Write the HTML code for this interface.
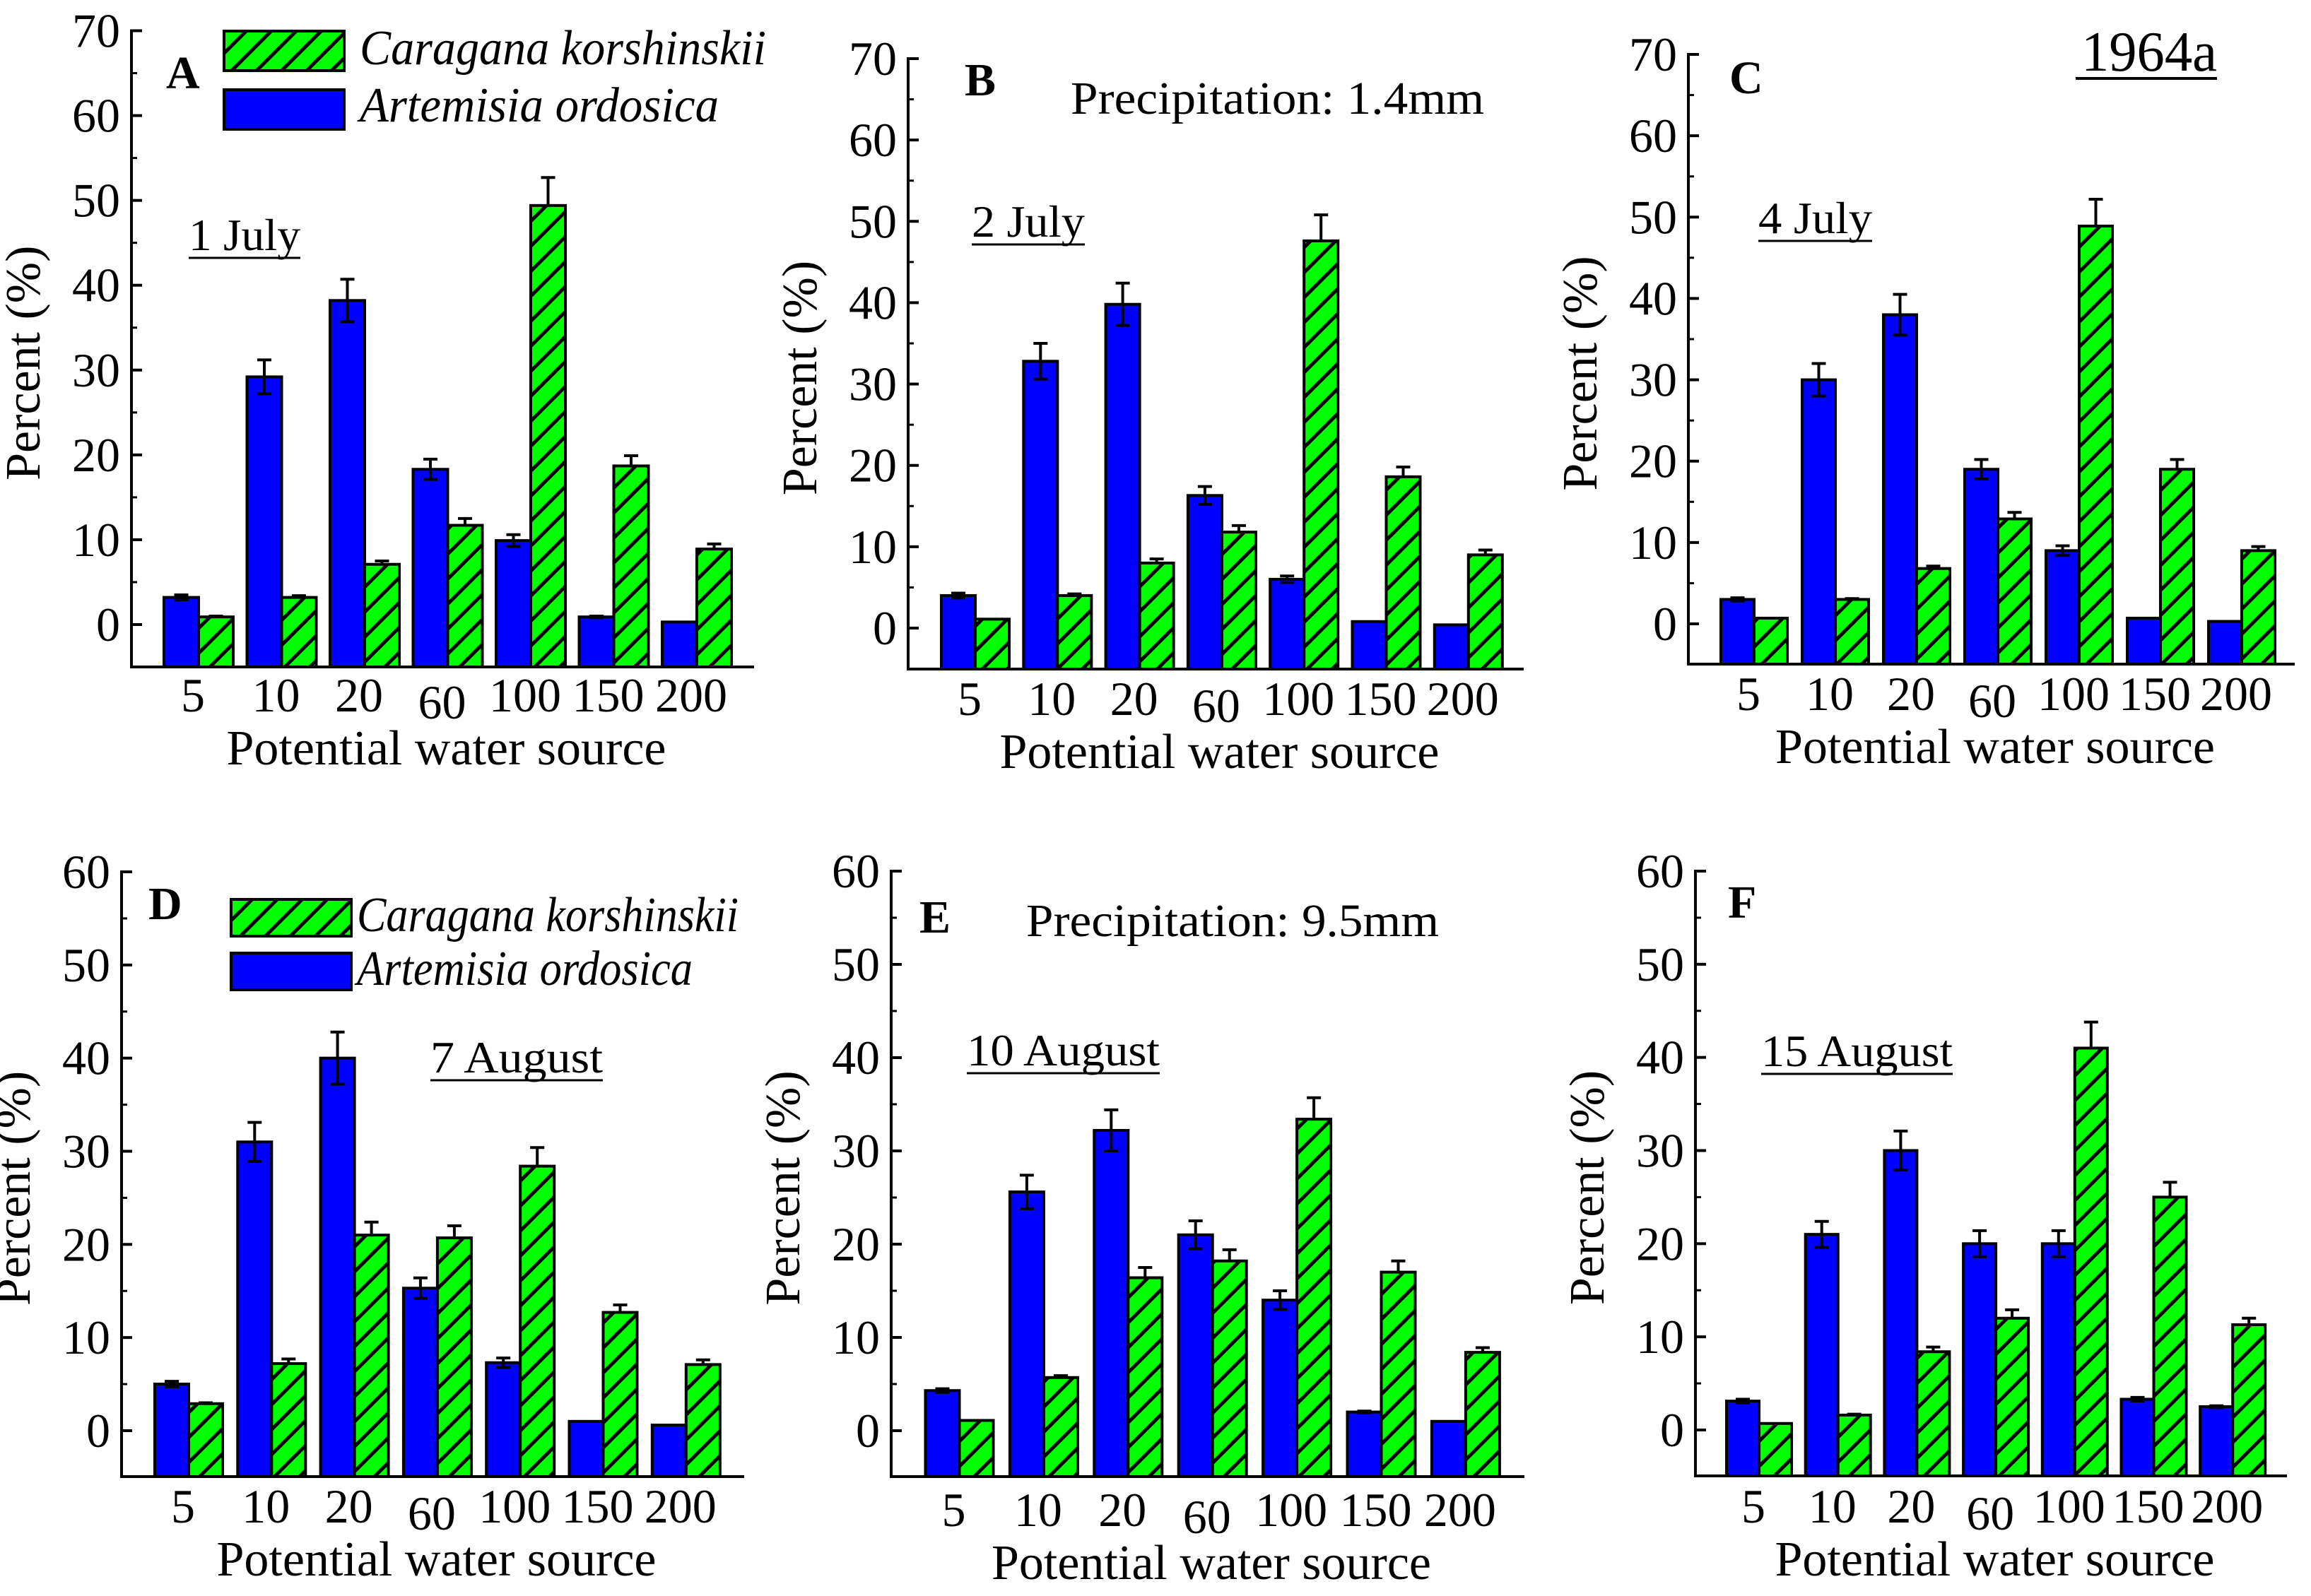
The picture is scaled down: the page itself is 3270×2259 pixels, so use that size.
<!DOCTYPE html>
<html><head><meta charset="utf-8"><style>
html,body{margin:0;padding:0;background:#fff;}
svg{display:block;}
svg text{font-family:"Liberation Serif","Times New Roman",serif;}
</style></head><body>
<svg id="fig" width="3270" height="2259" viewBox="0 0 3270 2259" xmlns="http://www.w3.org/2000/svg" font-family="Liberation Serif, Times New Roman, serif">
<defs>
<pattern id="hatch" patternUnits="userSpaceOnUse" width="25" height="25" patternTransform="rotate(45)">
<rect width="25" height="25" fill="#00ff00"/>
<rect x="0" y="0" width="5" height="25" fill="#000"/>
</pattern>
</defs>
</svg>
<script>
const categories = ["5","10","20","60","100","150","200"];
const aBlue = [3.2,29.2,38.2,18.3,9.9,0.9,0.3];
const aBlueErr = [0.3,2.0,2.5,1.2,0.7,0.1,0];
const aGreen = [0.9,3.2,7.1,11.7,49.4,18.7,8.9];
const aGreenErr = [0.1,0.2,0.4,0.8,3.3,1.2,0.6];
const bBlue = [4.0,32.8,39.8,16.3,6.0,0.8,0.4];
const bBlueErr = [0.3,2.2,2.6,1.1,0.4,0,0];
const bGreen = [1.1,4.0,8.0,11.8,47.6,18.6,9.0];
const bGreenErr = [0,0.2,0.5,0.8,3.2,1.2,0.6];
const cBlue = [3.0,30,38,19,9,0.7,0.3];
const cBlueErr = [0.2,2.0,2.5,1.2,0.6,0,0];
const cGreen = [0.7,3.0,6.8,12.9,48.9,19,9.0];
const cGreenErr = [0,0.1,0.3,0.8,3.3,1.2,0.5];
const dBlue = [5.0,31,40,15.3,7.3,1.0,0.6];
const dBlueErr = [0.3,2.1,2.8,1.1,0.5,0,0];
const dGreen = [2.9,7.2,21,20.7,28.4,12.7,7.1];
const dGreenErr = [0.1,0.5,1.4,1.3,2.0,0.8,0.5];
const eBlue = [4.3,25.6,32.2,21,14,2.0,1.0];
const eBlueErr = [0.2,1.8,2.2,1.5,1.0,0.1,0];
const eGreen = [1.1,5.7,16.4,18.2,33.4,17,8.4];
const eGreenErr = [0,0.2,1.1,1.2,2.3,1.2,0.5];
const fBlue = [3.1,21,30,20,20,3.3,2.5];
const fBlueErr = [0.2,1.4,2.1,1.4,1.4,0.2,0.1];
const fGreen = [0.7,1.6,8.4,12,41,25,11.3];
const fGreenErr = [0,0.1,0.5,0.9,2.8,1.6,0.7];
const ticksTop = [0,10,20,30,40,50,60,70];
const ticksBottom = [0,10,20,30,40,50,60];

const NS="http://www.w3.org/2000/svg";
const svg=document.getElementById('fig');
function mk(tag,attrs,parent){const e=document.createElementNS(NS,tag);for(const k in attrs)e.setAttribute(k,attrs[k]);(parent||svg).appendChild(e);return e;}
function txt(s,attrs,parent){const e=mk('text',attrs,parent);e.setAttribute('font-family','Liberation Serif, Times New Roman, serif');e.textContent=s;return e;}

const panels=[
 {id:'a',ax:186,y0:884,ytop:43.5,vmax:70,bottom:944,right:1067,first:232,pitch:117.5,bw:49,blue:aBlue,be:aBlueErr,green:aGreen,ge:aGreenErr,ticks:ticksTop,letter:'A',lx:235,ly:125,date:'1 July',dx:267,dy:354,dw:158,tickBase:1007},
 {id:'b',ax:1285,y0:889,ytop:83,vmax:70,bottom:947,right:2156,first:1332,pitch:116.3,bw:48,blue:bBlue,be:bBlueErr,green:bGreen,ge:bGreenErr,ticks:ticksTop,letter:'B',lx:1365,ly:135,date:'2 July',dx:1375,dy:335,dw:160,tickBase:1012},
 {id:'c',ax:2389,y0:883,ytop:77,vmax:70,bottom:940,right:3247,first:2435,pitch:115,bw:47,blue:cBlue,be:cBlueErr,green:cGreen,ge:cGreenErr,ticks:ticksTop,letter:'C',lx:2447,ly:132,date:'4 July',dx:2488,dy:330,dw:161,tickBase:1005},
 {id:'d',ax:172,y0:2025,ytop:1234,vmax:60,bottom:2090,right:1053,first:219,pitch:117.3,bw:48,blue:dBlue,be:dBlueErr,green:dGreen,ge:dGreenErr,ticks:ticksBottom,letter:'D',lx:210,ly:1301,date:'7 August',dx:609,dy:1518,dw:244,tickBase:2155},
 {id:'e',ax:1261,y0:2025,ytop:1233,vmax:60,bottom:2090,right:2157,first:1309.5,pitch:119.4,bw:48,blue:eBlue,be:eBlueErr,green:eGreen,ge:eGreenErr,ticks:ticksBottom,letter:'E',lx:1301,ly:1320,date:'10 August',dx:1368,dy:1508,dw:273,tickBase:2160},
 {id:'f',ax:2399,y0:2024,ytop:1233,vmax:60,bottom:2089,right:3236,first:2443,pitch:111.7,bw:46,blue:fBlue,be:fBlueErr,green:fGreen,ge:fGreenErr,ticks:ticksBottom,letter:'F',lx:2445,ly:1299,date:'15 August',dx:2492,dy:1509,dw:271,tickBase:2155}
];

panels.forEach(p=>{
  const g=mk('g',{});
  
  
  const unit=(p.y0-p.ytop)/p.vmax;
  const y=v=>p.y0-v*unit;
  const x=i=>p.first+i*p.pitch;
  categories.forEach((c,i)=>{
    const bx=x(i), gx=bx+p.bw;
    const bv=p.blue[i], gv=p.green[i];
    const br=mk('rect',{x:bx,y:y(bv),width:p.bw,height:p.bottom-y(bv),fill:'#0000ff',stroke:'#000','stroke-width':4},g);
    
    
    const cx=bx+p.bw/2;
    if(p.be[i]>0){
      const e1=mk('path',{d:`M${cx},${y(bv+p.be[i])}V${y(bv-p.be[i])}M${cx-10},${y(bv+p.be[i])}h20M${cx-10},${y(bv-p.be[i])}h20`,stroke:'#000','stroke-width':4,fill:'none'},g);
      
      
    }
    const gcx=gx+p.bw/2;
    if(p.ge[i]>0){
      const e2=mk('path',{d:`M${gcx},${y(gv+p.ge[i])}V${y(gv)}M${gcx-10},${y(gv+p.ge[i])}h20`,stroke:'#000','stroke-width':4,fill:'none'},g);
      
      
    }
    const gr=mk('rect',{x:gx,y:y(gv),width:p.bw,height:p.bottom-y(gv),fill:'url(#hatch)',stroke:'#000','stroke-width':4},g);
    
    
    const tl=txt(c,{x:bx+p.bw-8,y:p.tickBase+(c==='60'?10:0),'font-size':68,'text-anchor':'middle',fill:'#000'},g);
    
    
  });
  const axes=mk('path',{d:`M${p.ax},${p.ytop-2}V${p.bottom}H${p.right}`,stroke:'#000','stroke-width':4,fill:'none'},g);
  
  
  p.ticks.forEach(t=>{
    mk('line',{x1:p.ax,x2:p.ax+15,y1:y(t),y2:y(t),stroke:'#000','stroke-width':4},g);
    if(t<p.vmax) mk('line',{x1:p.ax,x2:p.ax+8,y1:y(t+5),y2:y(t+5),stroke:'#000','stroke-width':3},g);
    const yl=txt(String(t),{x:p.ax-16,y:y(t)+23,'font-size':68,'text-anchor':'end',fill:'#000'},g);
    
    
  });
  const ymid=(p.ytop+p.bottom)/2;
  const yt=txt('Percent (%)',{x:0,y:0,'font-size':70,'text-anchor':'middle',transform:`translate(${p.ax-130},${ymid+20}) rotate(-90)`},g);
  
  
  const xt=txt('Potential water source',{x:(p.ax+p.right)/2+5,y:p.tickBase+75,'font-size':70,'text-anchor':'middle'},g);
  
  
  const lt=txt(p.letter,{x:p.lx,y:p.ly,'font-size':66,'font-weight':'bold'},g);
  
  
  const dt=txt(p.date,{x:p.dx,y:p.dy,'font-size':64,textLength:p.dw,lengthAdjust:'spacingAndGlyphs'},g);
  
  
  mk('line',{x1:p.dx,x2:p.dx+p.dw,y1:p.dy+11,y2:p.dy+11,stroke:'#000','stroke-width':3},g);
});

function legend(bx,gy,by,bh,tx,t1y,t2y,tw1,tw2){
  const lg=mk('g',{});
  
  
  const r1=mk('rect',{x:bx,y:gy,width:170,height:bh,fill:'url(#hatch)',stroke:'#000','stroke-width':4},lg);
  
  
  const r2=mk('rect',{x:bx,y:by,width:170,height:bh,fill:'#0000ff',stroke:'#000','stroke-width':4},lg);
  
  
  const l1=txt('Caragana korshinskii',{x:tx,y:t1y,'font-size':70,'font-style':'italic',textLength:tw1,lengthAdjust:'spacingAndGlyphs'},lg);
  
  
  const l2=txt('Artemisia ordosica',{x:tx,y:t2y,'font-size':70,'font-style':'italic',textLength:tw2,lengthAdjust:'spacingAndGlyphs'},lg);
  
  
}
legend(317,44,127,56,509,91,172,575,508);
legend(327,1273,1349,52,505,1318,1394,540,475);

const p1=txt('Precipitation: 1.4mm',{x:1515,y:161,'font-size':66,textLength:585,lengthAdjust:'spacingAndGlyphs'});


const p2=txt('Precipitation: 9.5mm',{x:1452,y:1325,'font-size':66,textLength:584,lengthAdjust:'spacingAndGlyphs'});


const yr=txt('1964a',{x:2945,y:100,'font-size':80,textLength:192,lengthAdjust:'spacingAndGlyphs'});


mk('line',{x1:2937,x2:3137,y1:111,y2:111,stroke:'#000','stroke-width':4});
</script>
</body></html>
